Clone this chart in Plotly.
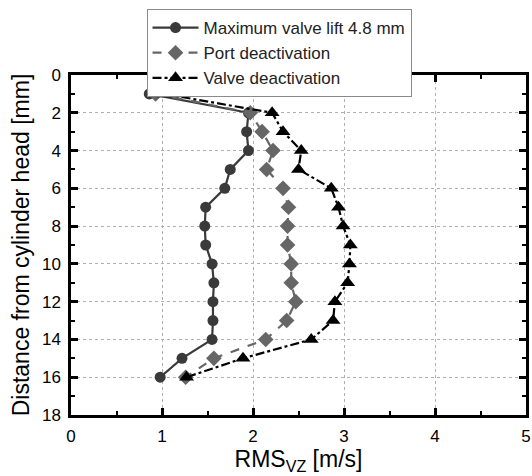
import plotly.graph_objects as go

# Distance from the cylinder head [mm]
distance = [1, 2, 3, 4, 5, 6, 7, 8, 9, 10, 11, 12, 13, 14, 15, 16]

# RMS of the axial velocity component [m/s]
rms_max_lift = [0.86, 1.95, 1.93, 1.95, 1.75, 1.69, 1.48, 1.47, 1.48, 1.55, 1.57, 1.56, 1.56, 1.55, 1.22, 0.98]
rms_port_deact = [0.93, 1.97, 2.10, 2.22, 2.15, 2.33, 2.39, 2.38, 2.38, 2.42, 2.42, 2.47, 2.37, 2.14, 1.57, 1.26]
rms_valve_deact = [1.02, 2.21, 2.33, 2.53, 2.50, 2.86, 2.94, 2.99, 3.07, 3.06, 3.04, 2.90, 2.88, 2.64, 1.89, 1.27]

series_names = ["Maximum valve lift 4.8 mm", "Port deactivation", "Valve deactivation"]

x_ticks = [0, 1, 2, 3, 4, 5]
y_ticks = [0, 2, 4, 6, 8, 10, 12, 14, 16, 18]

FONT = "Liberation Sans, Arial, sans-serif"

fig = go.Figure()

fig.add_trace(go.Scatter(
    x=rms_max_lift, y=distance, name=series_names[0], mode="lines+markers",
    line=dict(color="#3a3a3a", width=2.2, dash="solid"),
    marker=dict(symbol="circle", size=11, color="#3a3a3a"),
))
fig.add_trace(go.Scatter(
    x=rms_port_deact, y=distance, name=series_names[1], mode="lines+markers",
    line=dict(color="#666666", width=2.2, dash="dash"),
    marker=dict(symbol="diamond", size=12, color="#666666"),
))
fig.add_trace(go.Scatter(
    x=rms_valve_deact, y=distance, name=series_names[2], mode="lines+markers",
    line=dict(color="#000000", width=2.2, dash="dashdot"),
    marker=dict(symbol="triangle-up", size=13, color="#000000"),
))

axis_common = dict(
    showline=True, linecolor="black", linewidth=2.5, mirror="ticks",
    ticks="inside", ticklen=7, tickwidth=2.5, tickcolor="black",
    showgrid=True, gridcolor="#b0b0b0", gridwidth=1, griddash="dot",
    zeroline=False, ticklabeloverflow="allow",
    tickfont=dict(family=FONT, size=17, color="black"),
    title_font=dict(family=FONT, size=23, color="black"),
)

fig.update_xaxes(
    range=[0, 5], tickvals=x_ticks, ticktext=[str(v) for v in x_ticks],
    minor=dict(ticks="inside", ticklen=4, tickwidth=2, tickcolor="black", dtick=0.5, showgrid=False),
    title_text="RMS<sub>VZ</sub> [m/s]", title_standoff=5, ticklabelstandoff=4,
    **axis_common,
)
fig.update_yaxes(
    range=[18, 0], tickvals=y_ticks, ticktext=[str(v) for v in y_ticks],
    minor=dict(ticks="inside", ticklen=4, tickwidth=2, tickcolor="black", dtick=1, showgrid=False),
    title_text="Distance from cylinder head [mm]", title_standoff=6, ticklabelstandoff=4,
    **axis_common,
)

fig.update_layout(
    width=532, height=476,
    margin=dict(l=71, r=1, t=75, b=61),
    paper_bgcolor="white", plot_bgcolor="white",
    font=dict(family=FONT, color="black"),
    showlegend=True,
    legend=dict(
        x=0.166, y=1.194, xanchor="left", yanchor="top",
        bgcolor="white", bordercolor="#8a8a8a", borderwidth=1,
        font=dict(family=FONT, size=17, color="#222222"),
        itemwidth=46, tracegroupgap=0,
    ),
)

fig.write_html("out.html")
